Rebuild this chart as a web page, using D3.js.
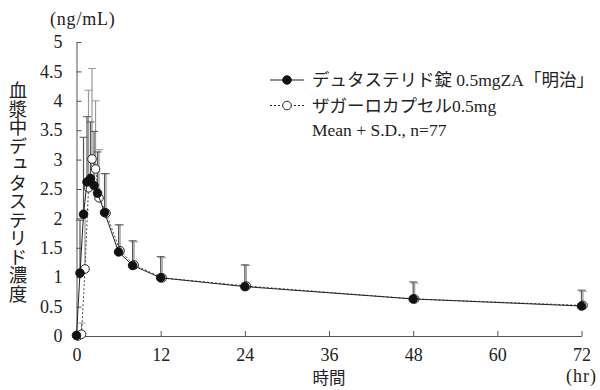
<!DOCTYPE html>
<html>
<head>
<meta charset="utf-8">
<script src="https://cdn.jsdelivr.net/npm/d3@7"></script>
<style>
  body { margin: 0; background: #fff; }
  text { font-family: "Liberation Serif", "Noto Sans CJK JP", serif; fill: #222; }
</style>
</head>
<body>
<script>
// data
var times = [0, 0.5, 1, 1.5, 2, 2.5, 3, 4, 6, 8, 12, 24, 48, 72];
var tabletMean = [0.01, 1.07, 2.07, 2.62, 2.68, 2.56, 2.43, 2.10, 1.43, 1.20, 0.99, 0.84, 0.63, 0.51];
var tabletSD = [0.03, 0.90, 1.31, 1.11, 0.96, 0.92, 0.70, 0.66, 0.46, 0.42, 0.36, 0.37, 0.29, 0.27];
var capsuleMean = [0, 0.03, 1.14, 2.52, 3.01, 2.84, 2.35, 2.09, 1.45, 1.21, 0.99, 0.85, 0.63, 0.52];
var capsuleSD = [0, 0.19, 1.00, 1.66, 1.54, 1.16, 0.82, 0.67, 0.44, 0.39, 0.34, 0.35, 0.27, 0.24];
var yTicks = [0, 0.5, 1, 1.5, 2, 2.5, 3, 3.5, 4, 4.5, 5];
var xTicks = [0, 12, 24, 36, 48, 60, 72];
var legendLabels = ["デュタステリド錠 0.5mgZA「明治」", "ザガーロカプセル0.5mg"];

var svgWidth = 600;
var svgHeight = 390;
var margin = { top: 42, right: 18, bottom: 54, left: 76.5 };
var width = svgWidth - margin.left - margin.right;
var height = svgHeight - margin.top - margin.bottom;

var svg = d3.select("body").append("svg")
  .attr("width", svgWidth)
  .attr("height", svgHeight);

var chartGroup = svg.append("g")
  .attr("transform", `translate(${margin.left}, ${margin.top})`);

var x = d3.scaleLinear().domain([0, 72]).range([0, 505]);
var y = d3.scaleLinear().domain([0, 5]).range([height, 0]);

// axes, ticks point inward
var xAxis = chartGroup.append("g")
  .attr("transform", `translate(0, ${height})`)
  .call(d3.axisBottom(x).tickValues(xTicks).tickSize(-5).tickSizeOuter(0).tickPadding(12));

var yAxis = chartGroup.append("g")
  .call(d3.axisLeft(y).tickValues(yTicks).tickSize(-5).tickSizeOuter(0).tickPadding(14)
    .tickFormat(d => d));

[xAxis, yAxis].forEach(function(ax) {
  ax.selectAll("path, line").attr("stroke", "#555");
  ax.selectAll("text").attr("font-size", 18).attr("fill", "#222")
    .style("font-family", "Liberation Serif");
});

// series: open markers sit a touch to the right
var series = [
  { mean: capsuleMean, sd: capsuleSD, fill: "#fff", dash: "2,2", dx: 1.5, bar: "#999" },
  { mean: tabletMean, sd: tabletSD, fill: "#111", dash: null, dx: 0, bar: "#555" }
];

series.forEach(function(s) {
  var pts = times.map((t, i) => ({ t: t, m: s.mean[i], sd: s.sd[i] }));
  var g = chartGroup.append("g");

  // upper error bars
  var bars = g.selectAll("g.bar").data(pts).enter().append("g");
  bars.append("line")
    .attr("x1", d => x(d.t) + s.dx).attr("x2", d => x(d.t) + s.dx)
    .attr("y1", d => y(d.m)).attr("y2", d => y(d.m + d.sd))
    .attr("stroke", s.bar).attr("stroke-width", 1.2);
  bars.append("line")
    .attr("x1", d => x(d.t) + s.dx - 4).attr("x2", d => x(d.t) + s.dx + 4)
    .attr("y1", d => y(d.m + d.sd)).attr("y2", d => y(d.m + d.sd))
    .attr("stroke", s.bar).attr("stroke-width", 1);
});

series.forEach(function(s) {
  var pts = times.map((t, i) => ({ t: t, m: s.mean[i] }));
  var line = d3.line().x(d => x(d.t) + s.dx).y(d => y(d.m));
  chartGroup.append("path")
    .datum(pts)
    .attr("d", line)
    .attr("fill", "none")
    .attr("stroke", s.dash ? "#444" : "#222")
    .attr("stroke-width", 1)
    .attr("stroke-dasharray", s.dash);
  chartGroup.append("g").selectAll("circle")
    .data(pts).enter().append("circle")
    .attr("cx", d => x(d.t) + s.dx)
    .attr("cy", d => y(d.m))
    .attr("r", 4.3)
    .attr("fill", s.fill)
    .attr("stroke", "#111")
    .attr("stroke-width", 0.9);
});

// unit labels
svg.append("text").attr("x", 50).attr("y", 25).attr("font-size", 18)
  .attr("letter-spacing", 0.8).text("(ng/mL)");
svg.append("text").attr("x", margin.left + x(72)).attr("y", 382).attr("text-anchor", "middle")
  .attr("font-size", 18).attr("letter-spacing", 1).text("(hr)");
svg.append("text").attr("x", margin.left + x(36)).attr("y", 384).attr("text-anchor", "middle")
  .attr("font-size", 16.5).style("font-family", "Noto Sans CJK JP").text("時間");

// y title, vertical
svg.append("text")
  .attr("x", 18).attr("y", 81)
  .attr("font-size", 18.5)
  .style("font-family", "Noto Sans CJK JP")
  .style("writing-mode", "vertical-rl")
  .style("text-orientation", "upright")
  .text("血漿中デュタステリド濃度");

// legend
var legend = svg.append("g").attr("transform", "translate(270, 80)");
var legendItems = [series[1], series[0]];
legendItems.forEach(function(s, i) {
  var row = legend.append("g").attr("transform", `translate(0, ${i * 25.5})`);
  row.append("line").attr("x1", 0).attr("x2", 34).attr("y1", 0).attr("y2", 0)
    .attr("stroke", "#222").attr("stroke-width", 1).attr("stroke-dasharray", s.dash);
  row.append("circle").attr("cx", 17).attr("cy", 0).attr("r", 4.3)
    .attr("fill", s.fill).attr("stroke", "#111").attr("stroke-width", 0.9);
  row.append("text").attr("x", 42).attr("y", 6).attr("font-size", 17.5).text(legendLabels[i]);
});
legend.append("text").attr("x", 42).attr("y", 56).attr("font-size", 17.5).text("Mean + S.D., n=77");
</script>
</body>
</html>
